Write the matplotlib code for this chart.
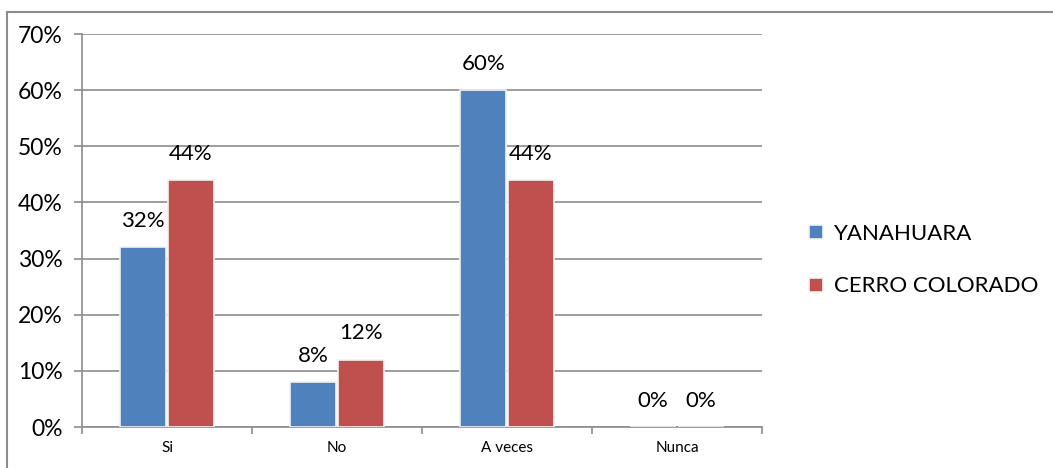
import numpy as np
import matplotlib.pyplot as plt
from matplotlib.lines import Line2D

categories = ['Si', 'No', 'A veces', 'Nunca']
yanahuara = [0.32, 0.08, 0.60, 0.0]
cerro_colorado = [0.44, 0.12, 0.44, 0.0]
series_names = ['YANAHUARA', 'CERRO COLORADO']
colors = ['#4f81bd', '#c0504d']

plt.rcParams['font.family'] = ['Lato', 'DejaVu Sans']

fig = plt.figure(figsize=(10.53, 4.68), dpi=100)
ax = fig.add_axes([82/1053, 41/468, 680/1053, 393/468])

x = np.arange(len(categories))
width = 0.27
grid_c = '#8c8c8c'

for i, (vals, name) in enumerate(zip([yanahuara, cerro_colorado], series_names)):
    pos = x + (i - 0.5) * (width + 0.01)
    bars = ax.bar(pos, vals, width=width, color=colors[i], label=name,
                  edgecolor='#f2f2f2', linewidth=1.2, zorder=3)
    for b, v in zip(bars, vals):
        ax.annotate('%d%%' % round(v * 100), (b.get_x() + b.get_width()/2, v),
                    xytext=(0, 19), textcoords='offset points',
                    ha='center', va='center', fontsize=16)

ax.set_xlim(-0.5, len(categories) - 0.5)
ax.set_ylim(0, 0.7)
ax.set_yticks(np.arange(0, 0.71, 0.1))
ax.set_yticklabels(['%d%%' % round(t * 100) for t in np.arange(0, 0.71, 0.1)], fontsize=16.5)
ax.yaxis.grid(True, color=grid_c, linewidth=1.2, zorder=0)
ax.set_axisbelow(True)

ax.set_xticks(x)
ax.set_xticklabels(categories, fontsize=11)
ax.tick_params(axis='x', length=0, pad=10)
ax.set_xticks(np.arange(-0.5, len(categories)), minor=True)
ax.tick_params(axis='x', which='minor', length=5, color=grid_c, width=1.2)
ax.tick_params(axis='y', length=6, color=grid_c, width=1.2, pad=8)

for s in ['top', 'right']:
    ax.spines[s].set_visible(False)
for s in ['left', 'bottom']:
    ax.spines[s].set_color(grid_c)
    ax.spines[s].set_linewidth(1.2)

ax.legend(loc='center left', bbox_to_anchor=(1.04, 0.424), frameon=False,
          fontsize=16, handlelength=0.6, handleheight=0.6, handletextpad=0.5,
          labelspacing=1.45)

# outer chart border (top and left)
fig.add_artist(Line2D([7/1053, 1.0], [1 - 12/468, 1 - 12/468], color='#8c8c8c', lw=1.5))
fig.add_artist(Line2D([7/1053, 7/1053], [0, 1 - 12/468], color='#8c8c8c', lw=1.5))

fig.savefig('out.png', dpi=100)
